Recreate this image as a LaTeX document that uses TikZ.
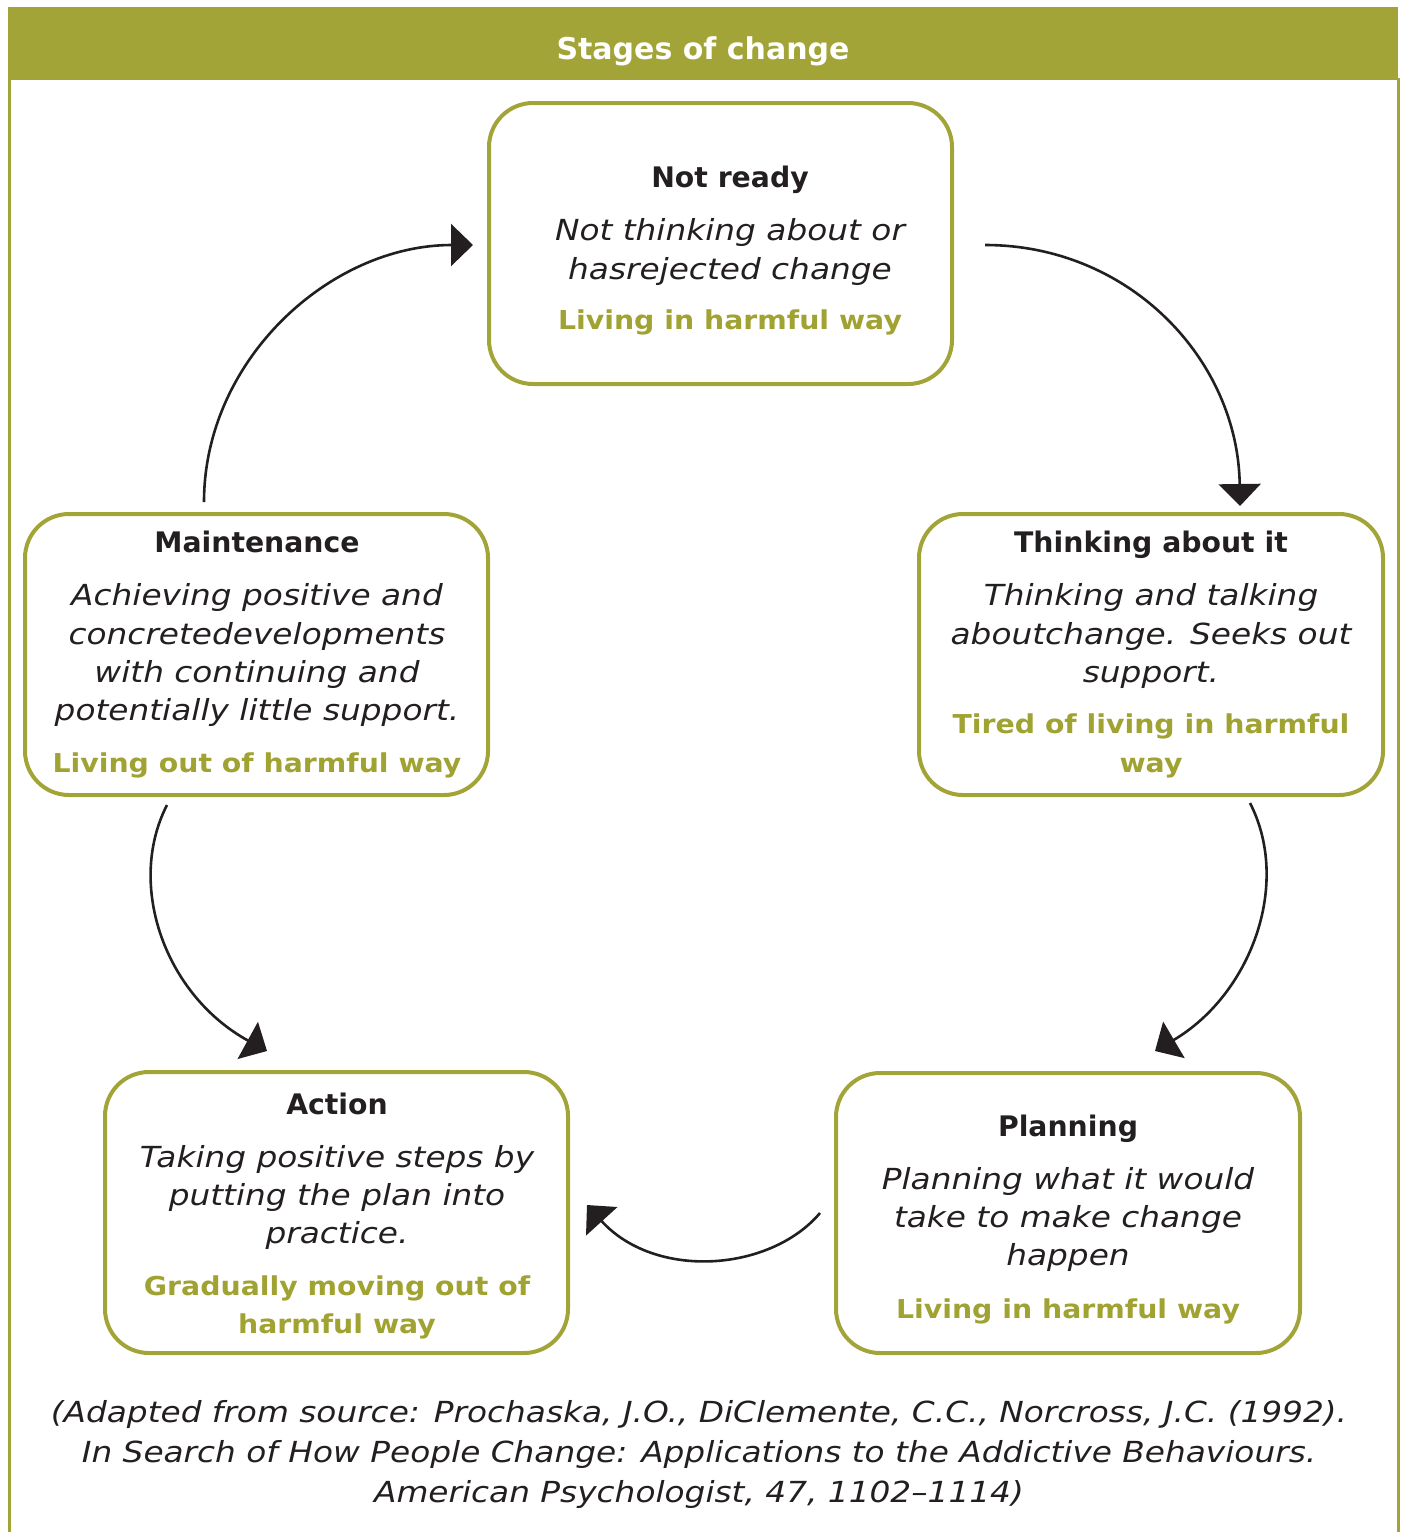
\documentclass[tikz,border=0pt]{standalone}
\usepackage{fontspec}
\setmainfont{DejaVu Sans}
\newfontfamily\descfont[FakeStretch=1.13]{DejaVu Sans}
\newfontfamily\capfont[FakeStretch=1.13]{DejaVu Sans}
\newfontfamily\grnfont[FakeStretch=1.09]{DejaVu Sans}
\usetikzlibrary{arrows.meta}
\definecolor{olive}{HTML}{A2A438}
\definecolor{olivetext}{HTML}{A0A232}
\definecolor{ink}{HTML}{231F20}
\tikzset{
  stagebox/.style={draw=olive, line width=4pt, rounded corners=44pt, fill=none},
  ttl/.style={anchor=base, font=\fontsize{28.3}{32}\selectfont\bfseries, text=ink, inner sep=0pt},
  desc/.style={anchor=base, font=\descfont\fontsize{29}{34}\selectfont\itshape, text=ink, inner sep=0pt},
  grn/.style={anchor=base, font=\grnfont\fontsize{26}{30}\selectfont\bfseries, text=olivetext, inner sep=0pt},
  captext/.style={anchor=base, font=\capfont\fontsize{29}{34}\selectfont\itshape, text=ink, inner sep=0pt},
  cyc/.style={draw=ink, line width=2.6pt, -{Triangle[length=22pt,width=42pt]}},
}
\begin{document}
\begin{tikzpicture}[x=1pt,y=-1pt]
\useasboundingbox (0,0) rectangle (1402,1532);
% frame
\fill[olive] (8,7) rectangle (1398,80);
\draw[olive, line width=3pt] (9,78) -- (9,1532);
\draw[olive, line width=3pt] (1398,78) -- (1398,1532);
\node[anchor=base, font=\fontsize{30}{34}\selectfont\bfseries, text=white, inner sep=0pt] (title) at (703,59) {Stages of change};
% boxes
\draw[stagebox] (489,103) rectangle (952,384);
\draw[stagebox] (919,514) rectangle (1383,795);
\draw[stagebox] (836,1073) rectangle (1300,1353);
\draw[stagebox] (105,1072) rectangle (568,1353);
\draw[stagebox] (25,514) rectangle (488,795);
% Not ready
\node[ttl] (nr-t) at (730,187) {Not ready};
\node[desc] (nr-d1) at (730,240) {Not thinking about or};
\node[desc] (nr-d2) at (730,279) {hasrejected change};
\node[grn] (nr-g1) at (730,329) {Living in harmful way};
% Thinking about it
\node[ttl] (th-t) at (1151,552) {Thinking about it};
\node[desc] (th-d1) at (1151,605) {Thinking and talking};
\node[desc] (th-d2) at (1151,644) {aboutchange. Seeks out};
\node[desc] (th-d3) at (1151,682) {support.};
\node[grn] (th-g1) at (1151,733) {Tired of living in harmful};
\node[grn] (th-g2) at (1151,772) {way};
% Planning
\node[ttl] (pl-t) at (1068,1136) {Planning};
\node[desc] (pl-d1) at (1068,1189) {Planning what it would};
\node[desc] (pl-d2) at (1068,1227) {take to make change};
\node[desc] (pl-d3) at (1068,1265) {happen};
\node[grn] (pl-g1) at (1068,1318) {Living in harmful way};
% Action
\node[ttl] (ac-t) at (337,1114) {Action};
\node[desc] (ac-d1) at (337,1167) {Taking positive steps by};
\node[desc] (ac-d2) at (337,1205) {putting the plan into};
\node[desc] (ac-d3) at (337,1243) {practice.};
\node[grn] (ac-g1) at (337,1295) {Gradually moving out of};
\node[grn] (ac-g2) at (337,1333) {harmful way};
% Maintenance
\node[ttl] (mt-t) at (257,552) {Maintenance};
\node[desc] (mt-d1) at (257,605) {Achieving positive and};
\node[desc] (mt-d2) at (257,644) {concretedevelopments};
\node[desc] (mt-d3) at (257,682) {with continuing and};
\node[desc] (mt-d4) at (257,720) {potentially little support.};
\node[grn] (mt-g1) at (257,772) {Living out of harmful way};
% caption
\node[captext] (c1) at (699,1422) {(Adapted from source: Prochaska, J.O., DiClemente, C.C., Norcross, J.C. (1992).};
\node[captext] (c2) at (699,1462) {In Search of How People Change: Applications to the Addictive Behaviours.};
\node[captext] (c3) at (699,1502) {American Psychologist, 47, 1102–1114)};
% arrow end points
\coordinate (a1s) at (985,245);
\coordinate (a1e) at (1240,506);
\coordinate (a2s) at (1250,803);
\coordinate (a2e) at (1155,1051);
\coordinate (a3s) at (820,1213);
\coordinate (a3e) at (587,1205);
\coordinate (a4s) at (167,805);
\coordinate (a4e) at (267,1051);
\coordinate (a5s) at (204,502);
\coordinate (a5e) at (473,245);
\draw[cyc] (a1s) .. controls (1130,245) and (1238,360) .. (a1e);
\draw[cyc] (a2s) .. controls (1292,885) and (1250,995) .. (a2e);
\draw[cyc] (a3s) .. controls (770,1272) and (655,1280) .. (a3e);
\draw[cyc] (a4s) .. controls (126,885) and (165,995) .. (a4e);
\draw[cyc] (a5s) .. controls (204,360) and (330,245) .. (a5e);
\end{tikzpicture}
\end{document}
